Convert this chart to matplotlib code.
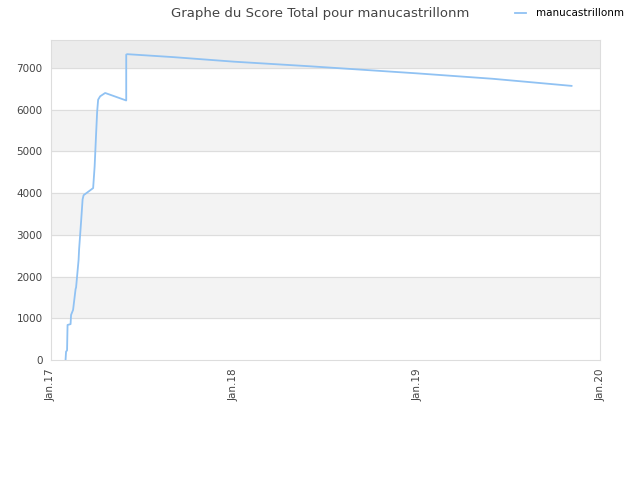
import matplotlib
matplotlib.use("Agg")
import matplotlib.pyplot as plt
import matplotlib.dates as mdates
import numpy as np
import datetime as dt

# donnees
dates = ["2017-01-30", "2017-01-31", "2017-02-02", "2017-02-03", "2017-02-09",
         "2017-02-10", "2017-02-14", "2017-02-19", "2017-02-20", "2017-02-25",
         "2017-02-26", "2017-03-02", "2017-03-05", "2017-03-07", "2017-03-26",
         "2017-03-29", "2017-04-01", "2017-04-03", "2017-04-05", "2017-04-09",
         "2017-04-19", "2017-05-31", "2017-05-31", "2017-06-02", "2017-09-01",
         "2018-01-01", "2018-06-01", "2019-01-01", "2019-06-01", "2019-11-05"]
scores = [0, 200, 230, 840, 860, 1080, 1200, 1700, 1740, 2400,
          2650, 3320, 3850, 3950, 4120, 4640, 5440, 5950, 6240, 6320,
          6400, 6220, 7320, 7330, 7260, 7150, 7040, 6870, 6740, 6570]
yticks = [0, 1000, 2000, 3000, 4000, 5000, 6000, 7000]
xticks = ["2017-01-01", "2018-01-01", "2019-01-01", "2020-01-01"]
xlabels = ["Jan.17", "Jan.18", "Jan.19", "Jan.20"]

x = [dt.datetime.strptime(d, "%Y-%m-%d") for d in dates]
xt = [dt.datetime.strptime(d, "%Y-%m-%d") for d in xticks]

fig = plt.figure(figsize=(6.4, 4.8), dpi=100)
ax = fig.add_axes([0.0797, 0.25, 0.858, 0.6667])

ymax = 7670
# bandes alternees
for i in range(len(yticks) - 1):
    if i % 2 == 1:
        ax.axhspan(yticks[i], yticks[i + 1], color="#f3f3f3", zorder=0)
ax.axhspan(7000, ymax, color="#ececec", zorder=0)
for v in yticks[1:]:
    ax.axhline(v, color="#dddddd", lw=0.8, zorder=1)

ax.plot(x, scores, color="#90c2f3", lw=1.3, label="manucastrillonm", zorder=3)

ax.set_xlim(xt[0], xt[-1])
ax.set_ylim(0, ymax)
ax.set_xticks(xt)
ax.set_xticklabels(xlabels, rotation=90, fontsize=7.5, color="#444444")
ax.set_yticks(yticks)
ax.set_yticklabels([str(v) for v in yticks], fontsize=7.5, color="#444444")
ax.tick_params(length=0, pad=6)
for s in ax.spines.values():
    s.set_color("#dddddd")

fig.text(0.5, 0.972, "Graphe du Score Total pour manucastrillonm", ha="center",
         va="center", fontsize=9.5, color="#444444")
ax.legend(loc="center", bbox_to_anchor=(0.89, 0.972), bbox_transform=fig.transFigure,
          frameon=False, fontsize=7.5, handlelength=1.0, handletextpad=1.0)

fig.savefig("out.png", dpi=100)
